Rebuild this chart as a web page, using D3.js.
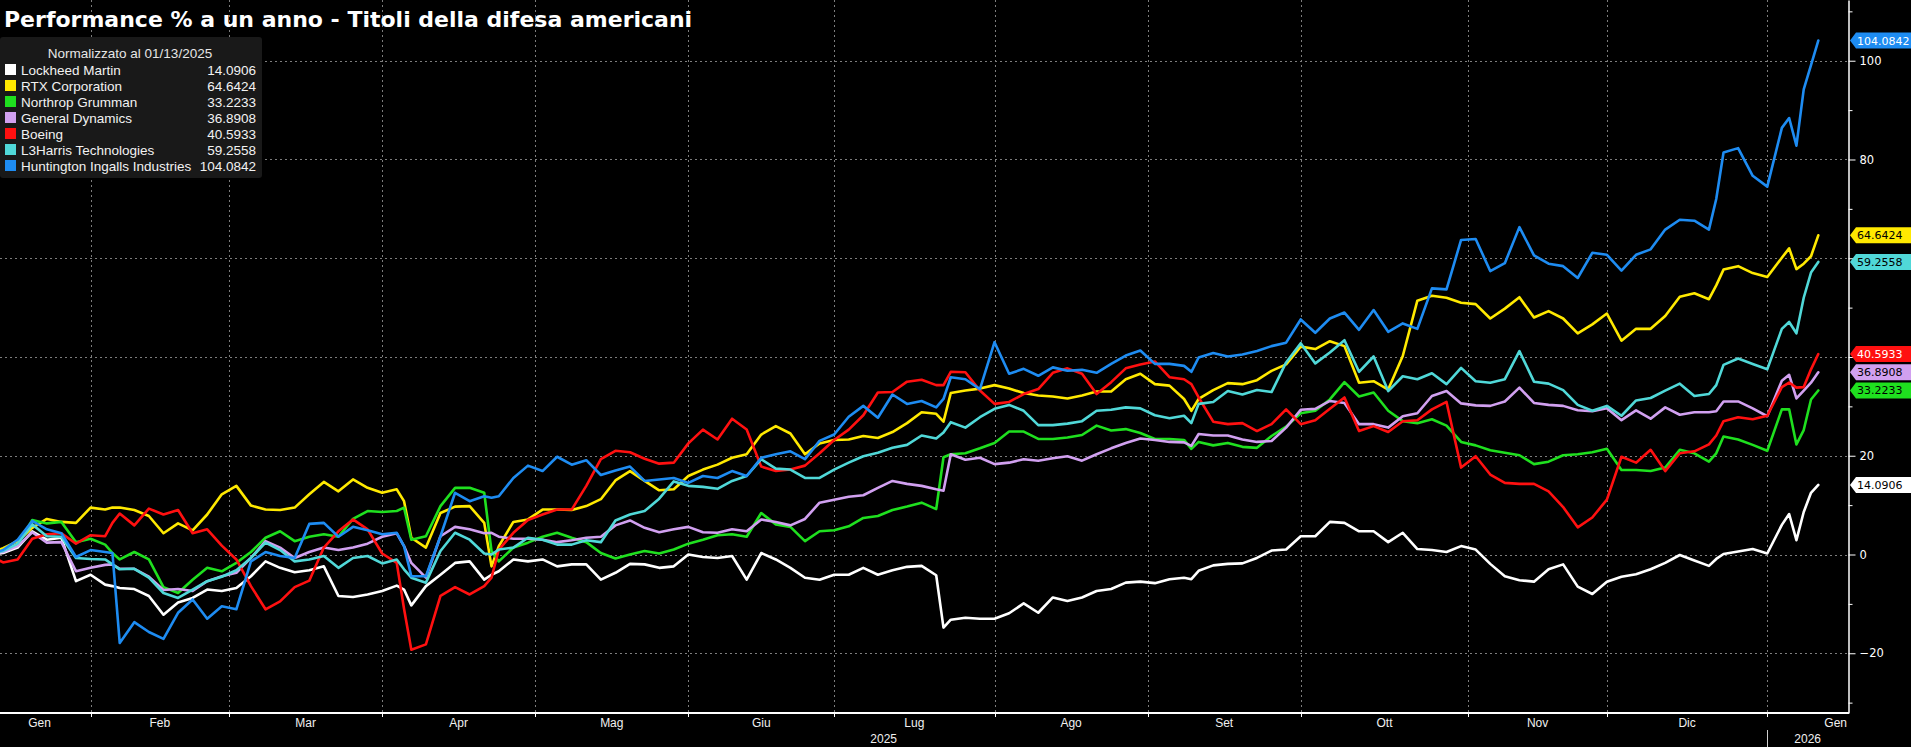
<!DOCTYPE html>
<html><head><meta charset="utf-8">
<script src="https://cdn.jsdelivr.net/npm/d3@7"></script>
<style>html,body{margin:0;padding:0;background:#000;overflow:hidden}</style>
</head><body>
<svg id="c" width="1911" height="747"></svg>
<script>
// ---- DATA (trading-day index from 13 Jan 2025; % change normalized at 01/13/2025) ----
const days = [
 0,2,4,6,8,10,12,14,16,17,
 18,20,22,24,26,28,30,32,34,36,
 38,40,42,44,46,48,50,52,54,56,
 57,58,60,62,64,66,68,69,70,72,
 74,76,78,80,82,84,86,88,90,92,
 94,96,98,100,102,104,106,108,110,112,
 114,116,118,120,122,124,126,128,130,131,
 132,134,136,138,140,142,144,146,148,150,
 152,154,156,158,160,162,164,165,166,168,
 170,172,174,176,178,180,182,184,186,188,
 190,192,194,196,198,200,202,204,206,208,
 210,212,214,216,218,220,222,224,226,228,
 230,232,234,236,237,238,240,242,244,246,
 247,248,249,250,251];

const lockheed = [
 0,0.3,1.4,4.7,3.0,3.4,-5.4,-4.1,-6.1,-6.4,
 -6.8,-7.0,-8.4,-12.2,-9.7,-8.8,-7.1,-7.4,-6.8,-4.4,
 -1.4,-2.7,-3.6,-3.2,-2.4,-8.4,-8.6,-8.1,-7.4,-6.3,
 -7.1,-10.3,-6.4,-4.1,-1.7,-1.4,-5.1,-4.1,-3.4,-1.0,
 -1.4,-1.0,-2.4,-2.0,-2.0,-5.1,-3.7,-1.9,-2.0,-2.7,
 -2.4,0,-0.5,-0.7,-0.3,-5.1,0.3,-1.0,-2.7,-4.7,
 -5.1,-4.1,-4.1,-2.7,-4.1,-3.2,-2.5,-2.3,-4.2,-14.8,
 -13.2,-12.8,-13.0,-13.0,-11.9,-9.9,-11.8,-8.7,-9.4,-8.7,
 -7.4,-7.0,-5.7,-5.5,-5.8,-5.0,-4.7,-5.0,-3.3,-2.2,
 -1.9,-1.8,-0.7,0.8,1.0,3.7,3.7,6.6,6.4,4.7,
 4.7,2.5,4.4,1.1,0.9,0.5,1.7,1.0,-1.9,-4.4,
 -5.2,-5.5,-3.0,-2.0,-6.5,-8.0,-5.5,-4.5,-4.0,-3.0,
 -1.7,-0.1,-1.2,-2.3,-0.9,0.1,0.6,1.1,0.2,6.0,
 8.2,2.9,8.6,12.5,14.0906];

const rtx = [
 0,1.3,2.7,5.4,7.2,6.6,6.4,9.5,9.1,9.5,
 9.5,9.0,7.8,4.3,6.3,4.9,8.1,12.2,13.9,9.9,
 9.1,9.0,9.5,12.2,14.7,12.8,15.2,13.5,12.5,13.2,
 10.8,3.4,1.4,8.4,9.7,9.8,6.4,-2.4,1.7,6.6,
 7.1,9.1,9.1,9.0,9.8,11.2,15.0,16.9,14.9,13.0,
 13.2,15.9,17.2,18.2,19.6,20.3,24.3,26.0,24.5,20.3,
 22.5,23.2,23.3,24.0,23.6,24.8,26.6,28.8,28.5,26.9,
 32.7,33.2,33.6,34.3,33.6,32.7,32.2,32.0,31.6,32.2,
 33.0,33.0,35.5,36.6,34.5,34.2,31.5,29.1,31.5,33.3,
 34.7,34.5,35.3,37.2,38.5,42.1,41.6,43.2,42.2,34.8,
 35.1,33.4,40.2,51.4,52.4,52.0,51.0,50.7,47.8,49.8,
 52.1,48.0,49.3,47.8,44.8,46.6,48.8,43.3,45.7,45.7,
 48.3,52.2,52.9,51.7,54.5,57.7,58.4,57.0,56.2,60.1,
 62.0,57.8,58.9,60.4,64.6424];

const northrop = [
 0,0.7,2.0,7.0,6.3,6.6,2.5,3.2,2.0,0.3,
 -1.0,0.5,-1.0,-6.6,-7.8,-5.1,-2.7,-3.4,-1.7,0.5,
 3.4,4.7,2.7,3.6,4.1,3.6,7.2,8.8,8.6,8.8,
 9.5,3.0,3.7,9.8,13.5,13.5,12.5,0.7,-1.4,1.4,
 2.4,3.6,4.4,3.4,2.5,0.3,-0.8,0.0,0.7,0.2,
 1.0,2.2,3.0,3.9,4.1,3.6,8.4,6.1,5.6,2.7,
 4.7,4.9,5.7,7.4,7.8,9.0,9.7,10.5,9.2,19.7,
 20.3,20.5,21.5,22.6,24.9,24.9,23.4,23.4,23.7,24.2,
 26.1,25.1,25.4,24.6,23.4,23.4,23.2,21.4,22.8,22.1,
 22.6,21.8,21.6,24.0,25.9,28.6,29.1,31.4,34.9,32.0,
 32.8,29.1,27.0,26.6,27.4,26.1,22.8,22.1,21.1,20.6,
 20.1,18.3,18.8,20.1,20.3,20.7,21.4,17.1,17.1,16.9,
 17.6,21.2,20.5,18.8,20.5,23.9,23.3,22.2,21.0,29.4,
 29.4,22.3,25.2,31.4,33.2233];

const generalDynamics = [
 0,0.5,1.7,4.5,2.4,2.5,-3.4,-2.7,-2.1,-2.0,
 -2.9,-2.9,-4.5,-7.2,-7.0,-7.4,-5.4,-4.4,-3.7,-0.7,
 2.7,1.4,-0.7,0.5,1.4,0.9,1.4,2.2,3.6,4.3,
 1.7,-1.7,-4.7,3.7,5.6,5.1,4.3,4.4,3.6,3.2,
 3.2,3.0,2.5,2.9,3.4,3.6,5.9,6.9,5.4,4.5,
 5.1,5.6,4.5,4.4,5.1,4.7,7.1,6.6,5.9,7.2,
 10.5,11.1,11.7,12.0,13.5,14.9,14.3,13.9,13.2,12.9,
 20.3,19.2,19.6,18.3,18.6,19.3,19.0,19.5,19.9,19.0,
 20.3,21.5,22.6,23.5,23.2,22.8,22.7,22.0,24.4,24.1,
 24.1,23.3,22.8,23.0,25.7,29.3,29.5,31.1,30.7,26.4,
 26.4,25.7,28.0,28.6,32.1,33.1,30.6,30.2,30.1,31.0,
 33.8,30.7,30.3,30.1,29.2,29.0,29.6,27.2,29.2,27.5,
 29.8,28.3,28.8,28.8,29.0,31.0,31.0,29.6,28.0,35.2,
 36.4,31.6,33.2,34.8,36.8908];

const boeing = [
 0,-1.6,-1.0,3.2,4.1,4.3,2.2,3.9,3.7,6.4,
 8.3,5.9,9.3,8.1,9.0,4.3,5.1,1.8,-1.0,-6.4,
 -11.1,-9.5,-6.6,-5.3,1.4,4.7,7.1,5.1,0.2,-1.7,
 -11.0,-19.3,-18.2,-8.4,-6.6,-8.1,-6.4,-4.7,1.0,4.4,
 7.0,8.1,9.1,9.1,13.9,19.3,21.0,20.7,19.4,18.4,
 18.6,22.5,25.3,23.3,27.5,25.3,17.8,16.9,17.2,18.0,
 20.5,23.2,25.3,28.2,32.8,32.9,35.0,35.4,34.3,34.3,
 37.0,36.9,33.2,30.5,30.9,32.5,33.5,36.8,37.7,36.6,
 32.5,34.9,37.7,38.5,39.1,35.9,35.5,34.5,31.8,26.9,
 26.4,26.6,25.0,26.4,29.4,26.4,27.2,29.5,31.8,25.0,
 26.0,24.8,27.0,27.2,29.4,30.9,17.6,19.9,16.2,14.5,
 14.3,14.3,12.8,9.6,5.5,7.5,11.1,19.8,18.6,21.2,
 16.9,20.5,20.9,22.3,24.1,27.0,27.8,27.4,28.1,33.9,
 34.8,33.8,33.9,37.5,40.5933];

const l3harris = [
 0,0.7,2.2,6.1,3.7,3.6,-0.7,-0.9,-1.0,-2.0,
 -3.0,-2.9,-4.7,-7.8,-8.8,-7.1,-5.4,-4.5,-3.2,-0.7,
 2.4,0.9,-1.4,-1.0,-0.3,-2.7,-0.7,-0.3,-1.8,-1.0,
 -3.0,-4.7,-5.7,0.7,4.4,3.0,0.2,0.0,1.0,1.4,
 3.4,3.0,2.0,2.0,2.9,2.5,6.9,8.1,8.8,11.3,
 14.8,13.9,13.7,13.3,14.9,15.9,19.3,17.4,17.2,15.5,
 15.5,17.2,18.6,19.9,20.6,21.6,22.2,24.1,23.5,24.7,
 26.8,25.7,27.8,29.5,30.3,29.1,26.2,26.2,26.5,27.0,
 29.1,29.3,29.8,29.6,28.2,27.6,28.1,26.6,30.5,30.9,
 33.1,32.4,33.3,32.9,38.9,42.8,38.7,40.9,43.4,37.0,
 40.1,33.1,36.1,35.5,36.7,34.5,37.8,35.1,34.8,35.5,
 41.2,35.0,34.6,33.3,30.3,29.1,30.1,28.1,31.2,31.7,
 33.2,34.6,32.1,32.5,34.3,38.4,39.7,38.6,37.5,45.7,
 47.1,44.8,52.0,57.1,59.2558];

const huntington = [
 0,0.9,3.0,6.8,5.1,4.3,-0.5,0.9,0.5,0.3,
 -17.9,-13.7,-15.7,-17.1,-11.8,-9.1,-13.0,-10.5,-11.1,-1.4,
 0.5,-0.3,-0.7,6.2,6.4,3.6,5.6,4.9,4.1,4.4,
 1.7,-4.4,-4.4,3.7,12.5,10.8,11.8,11.5,11.8,15.5,
 18.0,16.9,19.8,18.2,19.1,16.1,17.0,17.8,14.9,15.2,
 15.5,14.5,15.9,15.5,16.9,15.9,19.6,20.3,20.9,19.3,
 23.0,24.3,27.9,30.1,27.7,32.4,30.5,31.1,29.8,31.5,
 35.9,35.5,33.5,43.0,36.6,37.6,36.2,37.9,37.2,37.4,
 36.8,38.6,40.3,41.3,38.6,38.6,38.2,37.0,39.9,40.8,
 40.1,40.5,41.2,42.2,42.9,47.6,44.9,47.8,49.0,45.5,
 49.5,45.1,46.8,45.7,53.9,53.7,63.7,63.9,57.4,59.0,
 66.3,60.6,58.9,58.4,56.0,61.1,60.7,57.5,60.7,61.8,
 65.8,67.8,67.6,65.8,72.0,81.4,82.3,76.7,74.5,86.4,
 88.4,82.8,94.2,99.1,104.0842];

const seriesNames = ["Lockheed Martin","RTX Corporation","Northrop Grumman","General Dynamics","Boeing","L3Harris Technologies","Huntington Ingalls Industries"];
const seriesValues = [lockheed, rtx, northrop, generalDynamics, boeing, l3harris, huntington];
const lastLabels = ["14.0906","64.6424","33.2233","36.8908","40.5933","59.2558","104.0842"];

const monthLabels = ["Gen","Feb","Mar","Apr","Mag","Giu","Lug","Ago","Set","Ott","Nov","Dic","Gen"];
const monthStarts = [0,14,33,54,75,96,116,138,159,180,203,222,244,264];
const yearLabels = ["2025","2026"];
const yearStarts = [0,244];
const yTicks = [-20,0,20,40,60,80,100];
const yMinorTicks = [-30,-10,10,30,50,70,90,110];

const titleText = "Performance % a un anno - Titoli della difesa americani";
const legendHeader = "Normalizzato al 01/13/2025";

// ---- STYLES ----
const colors = ["#ffffff","#ffe900","#1fe01f","#d1a0f0","#ff1010","#50d8d8","#1e8cf2"];
const tagTextColors = ["#000","#000","#000","#000","#fff","#000","#fff"];

const W = 1911, H = 747, plotRight = 1848, plotBottom = 713;
const svg = d3.select("#c");
svg.append("rect").attr("width", W).attr("height", H).attr("fill", "#000");

const x = d3.scaleLinear().domain([0, 251]).range([-11.5, 1818.3]);
const y = d3.scaleLinear().domain([-32.1, 112.3]).range([plotBottom, 0]);
const px = v => Math.round(v) + 0.5;

// grid
const grid = svg.append("g").attr("stroke", "#7d7d7d").attr("stroke-width", 1).attr("stroke-dasharray", "2,3");
grid.selectAll("line.h").data(yTicks).join("line").attr("class","h")
  .attr("x1", 0).attr("x2", plotRight).attr("y1", d => px(y(d))).attr("y2", d => px(y(d)));
grid.selectAll("line.v").data(monthStarts.slice(1, 13)).join("line").attr("class","v")
  .attr("y1", 0).attr("y2", plotBottom).attr("x1", d => px(x(d))).attr("x2", d => px(x(d)));

// lines
svg.append("defs").append("clipPath").attr("id", "clip")
  .append("rect").attr("x", 0).attr("y", 0).attr("width", plotRight).attr("height", plotBottom);
const line = d3.line().x((v, i) => x(days[i])).y(v => y(v));
svg.append("g").attr("clip-path", "url(#clip)")
  .selectAll("path").data(seriesValues).join("path")
  .attr("d", d => line(d)).attr("fill", "none")
  .attr("stroke", (d, i) => colors[i]).attr("stroke-width", 2.6)
  .attr("stroke-linejoin", "round").attr("stroke-linecap", "round");

// title
svg.append("text").attr("x", 4).attr("y", 27).text(titleText)
  .attr("fill", "#fff").attr("font-family", "DejaVu Sans").attr("font-weight", "bold").attr("font-size", 22);

// legend
const lg = svg.append("g");
lg.append("rect").attr("x", 0).attr("y", 37).attr("width", 262).attr("height", 141).attr("rx", 3).attr("fill", "#191919");
lg.append("text").attr("x", 130).attr("y", 58).attr("text-anchor", "middle").text(legendHeader)
  .attr("fill", "#e6e6e6").attr("font-family", "Liberation Sans").attr("font-size", 13.5);
const rows = lg.selectAll("g.row").data(seriesNames).join("g").attr("class", "row")
  .attr("transform", (d, i) => `translate(0,${69.5 + i * 16})`);
rows.append("rect").attr("x", 5).attr("y", -5.5).attr("width", 11).attr("height", 11).attr("fill", (d, i) => colors[i]);
rows.append("text").attr("x", 21).attr("y", 5).text(d => d)
  .attr("fill", "#f2f2f2").attr("font-family", "Liberation Sans").attr("font-size", 13.5);
rows.append("text").attr("x", 256).attr("y", 5).attr("text-anchor", "end").text((d, i) => lastLabels[i])
  .attr("fill", "#f2f2f2").attr("font-family", "Liberation Sans").attr("font-size", 13.5);

// right axis
const tagYs = seriesValues.map(s => y(s[s.length - 1]));
const yAxis = svg.append("g").attr("transform", `translate(${plotRight + 0.5},0)`)
  .call(d3.axisRight(y).tickValues(yTicks).tickSize(7).tickSizeOuter(0).tickPadding(4).tickFormat(d3.format("d")));
yAxis.select(".domain").attr("stroke", "#fff").attr("stroke-width", 1.5);
yAxis.selectAll(".tick line").attr("stroke", "#fff");
yAxis.selectAll(".tick text").attr("fill", "#fff").attr("font-family", "DejaVu Sans").attr("font-size", 11.5);
// labels hidden behind the value tags (as in the original) are not drawn
yAxis.selectAll(".tick").filter(d => tagYs.some(t => Math.abs(t - y(d)) < 10)).select("text").remove();
const yMinor = svg.append("g").attr("transform", `translate(${plotRight + 0.5},0)`)
  .call(d3.axisRight(y).tickValues(yMinorTicks).tickSize(4).tickSizeOuter(0).tickFormat(""));
yMinor.select(".domain").remove();
yMinor.selectAll(".tick line").attr("stroke", "#fff");

// bottom axis
svg.append("line").attr("x1", 0).attr("x2", plotRight + 1).attr("y1", plotBottom).attr("y2", plotBottom)
  .attr("stroke", "#fff").attr("stroke-width", 2);
svg.append("g").selectAll("line").data(monthStarts.slice(1, 13)).join("line")
  .attr("x1", d => px(x(d))).attr("x2", d => px(x(d))).attr("y1", plotBottom).attr("y2", plotBottom + 4)
  .attr("stroke", "#fff");
const ml = svg.append("g").selectAll("text").data(monthLabels).join("text")
  .text(d => d).attr("y", 727).attr("text-anchor", "middle")
  .attr("fill", "#f0f0f0").attr("font-family", "Liberation Sans").attr("font-size", 12);
ml.each(function(d, k) {
  const w = this.getComputedTextLength();
  let c = (x(monthStarts[k]) + x(monthStarts[k + 1])) / 2;
  c = Math.max(w / 2 + 1, Math.min(plotRight - w / 2 - 1, c));
  d3.select(this).attr("x", c);
});
svg.append("g").selectAll("text").data(yearLabels).join("text")
  .text(d => d).attr("y", 743).attr("text-anchor", "middle")
  .attr("x", (d, k) => {
    const a = Math.max(0, x(yearStarts[k]));
    const b = k + 1 < yearStarts.length ? x(yearStarts[k + 1]) : plotRight;
    return (a + b) / 2;
  })
  .attr("fill", "#f0f0f0").attr("font-family", "Liberation Sans").attr("font-size", 12);
svg.append("line").attr("x1", px(x(yearStarts[1]))).attr("x2", px(x(yearStarts[1])))
  .attr("y1", 730).attr("y2", H).attr("stroke", "#cfcfcf");

// last-value tags
const tags = svg.append("g").selectAll("g").data(seriesValues).join("g")
  .attr("transform", (d, i) => `translate(0,${tagYs[i]})`);
tags.append("path")
  .attr("d", `M${plotRight + 2},0 L${plotRight + 8},-8 L${W},-8 L${W},8 L${plotRight + 8},8 Z`)
  .attr("fill", (d, i) => colors[i]);
tags.append("text").attr("x", plotRight + 9).attr("y", 4).text((d, i) => lastLabels[i])
  .attr("fill", (d, i) => tagTextColors[i]).attr("font-family", "DejaVu Sans").attr("font-size", 11)
  .each(function() {
    const w = this.getComputedTextLength();
    const maxW = W - (plotRight + 9) - 1;
    if (w > maxW) d3.select(this).attr("textLength", maxW).attr("lengthAdjust", "spacingAndGlyphs");
  });
</script>
</body></html>
